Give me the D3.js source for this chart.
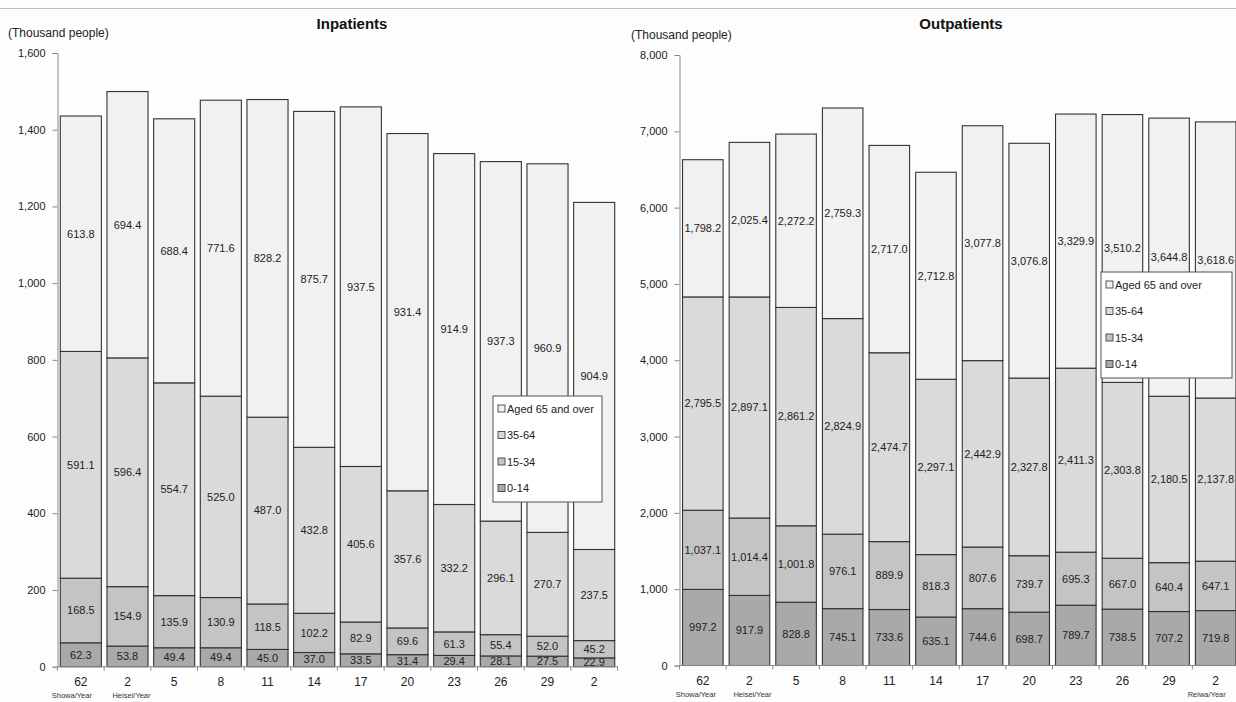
<!DOCTYPE html>
<html><head><meta charset="utf-8">
<script src="https://cdn.jsdelivr.net/npm/d3@7"></script>
<style>
html,body{margin:0;padding:0;background:#fdfdfd;}
svg{display:block;font-family:"Liberation Sans",Arial,sans-serif;}
</style></head>
<body><svg id="c" width="1236" height="702"></svg>
<script>
const categories = ["62","2","5","8","11","14","17","20","23","26","29","2"];
const seriesNames = ["0-14","15-34","35-64","Aged 65 and over"];
const legendOrder = ["Aged 65 and over","35-64","15-34","0-14"];
const inp0_14  = [62.3,53.8,49.4,49.4,45.0,37.0,33.5,31.4,29.4,28.1,27.5,22.9];
const inp15_34 = [168.5,154.9,135.9,130.9,118.5,102.2,82.9,69.6,61.3,55.4,52.0,45.2];
const inp35_64 = [591.1,596.4,554.7,525.0,487.0,432.8,405.6,357.6,332.2,296.1,270.7,237.5];
const inp65    = [613.8,694.4,688.4,771.6,828.2,875.7,937.5,931.4,914.9,937.3,960.9,904.9];
const out0_14  = [997.2,917.9,828.8,745.1,733.6,635.1,744.6,698.7,789.7,738.5,707.2,719.8];
const out15_34 = [1037.1,1014.4,1001.8,976.1,889.9,818.3,807.6,739.7,695.3,667.0,640.4,647.1];
const out35_64 = [2795.5,2897.1,2861.2,2824.9,2474.7,2297.1,2442.9,2327.8,2411.3,2303.8,2180.5,2137.8];
const out65    = [1798.2,2025.4,2272.2,2759.3,2717.0,2712.8,3077.8,3076.8,3329.9,3510.2,3644.8,3618.6];
const inpTicks = [0,200,400,600,800,1000,1200,1400,1600];
const outTicks = [0,1000,2000,3000,4000,5000,6000,7000,8000];

const colors = {"0-14":"#a9a9a9","15-34":"#c4c4c4","35-64":"#dadada","Aged 65 and over":"#f1f1f1"};
const svg = d3.select("#c");

svg.append("line").attr("x1",0).attr("x2",1236).attr("y1",8.5).attr("y2",8.5)
  .attr("stroke","#bdbdbd").attr("stroke-width",1.2);

function drawChart(opt){
  const g = svg.append("g");
  const rows = categories.map((c,i)=>{
    const r = {idx:i};
    opt.series.forEach((s,k)=>{ r[seriesNames[k]] = s[i]; });
    return r;
  });
  const stack = d3.stack().keys(seriesNames)(rows);
  const x = d3.scaleBand().domain(d3.range(categories.length)).range(opt.xr)
    .paddingInner(opt.pin).paddingOuter(opt.pout);
  const y = d3.scaleLinear().domain([0, opt.max]).range(opt.yr);

  // y axis
  const ya = d3.axisLeft(y).tickValues(opt.ticks).tickSize(5).tickPadding(7)
    .tickFormat(d3.format(","));
  const yg = g.append("g").attr("transform",`translate(${opt.xr[0]},0)`).call(ya);
  yg.select(".domain").attr("stroke","#8a8a8a");
  yg.selectAll(".tick line").attr("stroke","#8a8a8a");
  yg.selectAll(".tick text").attr("fill","#222").style("font-size","11px")
    .style("font-family","'Liberation Sans',Arial,sans-serif");

  // bars
  stack.forEach(layer=>{
    g.append("g").selectAll("rect").data(layer).join("rect")
      .attr("x",d=>x(d.data.idx)).attr("width",x.bandwidth())
      .attr("y",d=>y(d[1])).attr("height",d=>y(d[0])-y(d[1]))
      .attr("fill",colors[layer.key]).attr("stroke","#333").attr("stroke-width",1.1);
  });
  // labels
  const fmt = d3.format(opt.fmt);
  stack.forEach(layer=>{
    g.append("g").selectAll("text").data(layer).join("text")
      .attr("x",d=>x(d.data.idx)+x.bandwidth()/2)
      .attr("y",d=>(y(d[0])+y(d[1]))/2)
      .attr("dy","0.35em").attr("text-anchor","middle")
      .attr("fill","#222").style("font-size","11px")
      .text(d=>fmt(d[1]-d[0]));
  });

  // x axis
  const y0 = y(0);
  g.append("line").attr("x1",opt.xr[0]).attr("x2",opt.xr[1]).attr("y1",y0).attr("y2",y0)
    .attr("stroke","#8a8a8a");
  const step = x.step();
  d3.range(categories.length+1).forEach(i=>{
    const xx = (i===0? opt.xr[0] : x(i-1)+x.bandwidth()+ (step-x.bandwidth())/2);
    g.append("line").attr("x1",xx).attr("x2",xx).attr("y1",y0).attr("y2",y0+4)
      .attr("stroke","#8a8a8a");
  });
  g.append("g").selectAll("text").data(categories).join("text")
    .attr("x",(d,i)=>x(i)+x.bandwidth()/2).attr("y",y0+19)
    .attr("text-anchor","middle").attr("fill","#222").style("font-size","12px").text(d=>d);

  // era labels
  opt.eras.forEach(e=>{
    g.append("text").attr("x",x(e.i)+x.bandwidth()/2+(e.dx||0)).attr("y",y0+31)
      .attr("text-anchor","middle").attr("fill","#333").style("font-size","7.5px").text(e.t);
  });

  // titles
  g.append("text").attr("x",opt.titleX).attr("y",29).attr("text-anchor","middle")
    .attr("fill","#111").style("font-size","15px").style("font-weight","bold").text(opt.title);
  g.append("text").attr("x",opt.unitX).attr("y",opt.unitY).attr("fill","#222")
    .style("font-size","12px").text("(Thousand people)");

  // legend
  const L = opt.legend;
  const lg = g.append("g").attr("transform",`translate(${L.x},${L.y})`);
  lg.append("rect").attr("width",L.w).attr("height",L.h).attr("fill","#fff")
    .attr("stroke","#555").attr("stroke-width",1);
  legendOrder.forEach((n,k)=>{
    const yy = 13 + k*26.5;
    lg.append("rect").attr("x",5).attr("y",yy-4).attr("width",7).attr("height",7)
      .attr("fill",colors[n]).attr("stroke","#444").attr("stroke-width",0.9);
    lg.append("text").attr("x",14).attr("y",yy).attr("dy","0.35em")
      .attr("fill","#222").style("font-size","11px").text(n);
  });
}

drawChart({
  series:[inp0_14,inp15_34,inp35_64,inp65], max:1600, ticks:inpTicks,
  xr:[57.5,617.5], pin:0.12, pout:0.06, yr:[666.7,53], fmt:".1f",
  title:"Inpatients", titleX:352, unitX:8, unitY:37,
  eras:[{i:0,t:"Showa/Year",dx:-9},{i:1,t:"Heisei/Year",dx:4}],
  legend:{x:493,y:396,w:109,h:106}
});
drawChart({
  series:[out0_14,out15_34,out35_64,out65], max:8000, ticks:outTicks,
  xr:[679.5,1239], pin:0.13, pout:0.065, yr:[665.5,55], fmt:",.1f",
  title:"Outpatients", titleX:961, unitX:631, unitY:39,
  eras:[{i:0,t:"Showa/Year",dx:-7},{i:1,t:"Heisei/Year",dx:3},{i:11,t:"Reiwa/Year",dx:-9}],
  legend:{x:1101,y:272,w:131,h:106}
});
</script></body></html>
